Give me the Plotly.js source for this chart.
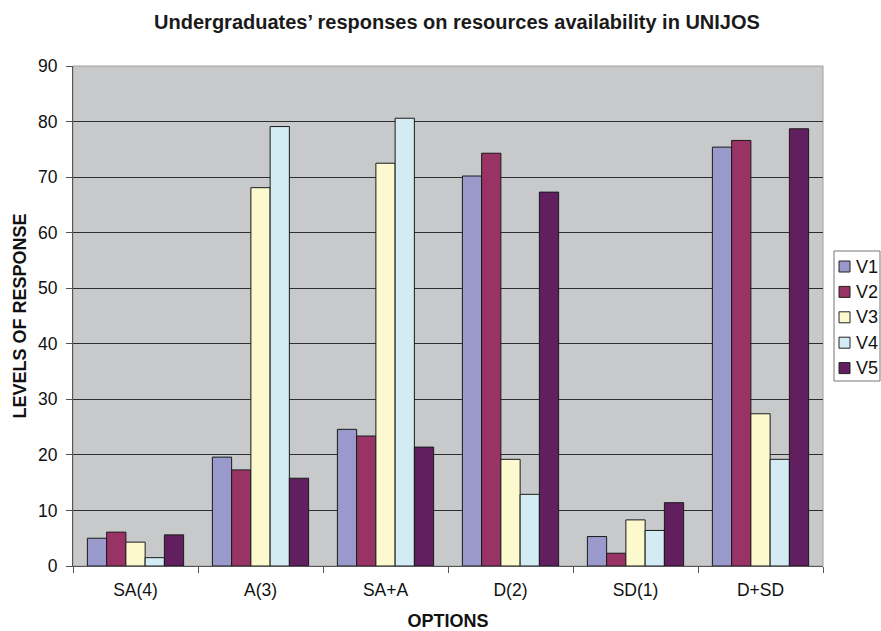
<!DOCTYPE html>
<html>
<head>
<meta charset="utf-8">
<script src="https://cdn.plot.ly/plotly-3.0.1.min.js"></script>
<style>html,body{margin:0;padding:0;background:#fff;}#chart{width:881px;height:631px;}</style>
</head>
<body>
<div id="chart"></div>
<script>
const categories = ["SA(4)", "A(3)", "SA+A", "D(2)", "SD(1)", "D+SD"];
const seriesNames = ["V1", "V2", "V3", "V4", "V5"];
const V1 = [5.0, 19.6, 24.6, 70.2, 5.3, 75.4];
const V2 = [6.1, 17.3, 23.4, 74.3, 2.3, 76.6];
const V3 = [4.3, 68.1, 72.5, 19.2, 8.3, 27.4];
const V4 = [1.5, 79.1, 80.6, 12.9, 6.4, 19.2];
const V5 = [5.6, 15.8, 21.4, 67.3, 11.4, 78.7];
const yTicks = [0, 10, 20, 30, 40, 50, 60, 70, 80, 90];

const seriesValues = [V1, V2, V3, V4, V5];
const colors = ["#9999CC", "#993366", "#FDF9CF", "#D3EBF2", "#611F5F"];

const W = 881, H = 631;
const M = {l: 73, r: 58, t: 66, b: 65};
const PW = W - M.l - M.r, PH = H - M.t - M.b;
const px2x = p => (p - M.l) / PW;
const px2y = p => (H - M.b - p) / PH;

const traces = seriesValues.map((vals, i) => ({
  type: "bar",
  name: seriesNames[i],
  x: categories,
  y: vals,
  marker: {color: colors[i], line: {color: "#1a1a1a", width: 1}},
  showlegend: false
}));

const font = "Liberation Sans, Arial, sans-serif";

// legend box (custom, drawn as shapes + text)
const shapes = [{
  type: "rect", xref: "paper", yref: "paper", x0: 0, x1: 1, y0: 0, y1: 1,
  line: {color: "#a0a0a0", width: 1}, fillcolor: "rgba(0,0,0,0)", layer: "below"
}, {
  type: "rect", xref: "paper", yref: "paper",
  x0: px2x(834), x1: px2x(880), y0: px2y(381), y1: px2y(251),
  line: {color: "#777", width: 1}, fillcolor: "#ffffff"
}];
const annotations = [];
seriesNames.forEach((name, i) => {
  const cy = 266.5 + 25.4 * i;
  shapes.push({
    type: "rect", xref: "paper", yref: "paper",
    x0: px2x(839), x1: px2x(850), y0: px2y(cy + 5.5), y1: px2y(cy - 5.5),
    line: {color: "#222", width: 1}, fillcolor: colors[i]
  });
  annotations.push({
    xref: "paper", yref: "paper", x: px2x(854), y: px2y(cy),
    xanchor: "left", yanchor: "middle", showarrow: false,
    text: name, font: {family: font, size: 18, color: "#111"}
  });
});

const layout = {
  width: W, height: H,
  paper_bgcolor: "#ffffff",
  plot_bgcolor: "#C8C9CB",
  margin: M,
  barmode: "group",
  bargap: 0.23,
  bargroupgap: 0,
  showlegend: false,
  font: {family: font, size: 17.5, color: "#111"},
  title: {
    text: "<b>Undergraduates’ responses on resources availability in UNIJOS</b>",
    font: {family: font, size: 20, color: "#1a1a1a"},
    x: 457/W, xanchor: "center", y: 1 - 22/H, yanchor: "middle"
  },
  xaxis: {
    type: "category",
    tickson: "boundaries",
    ticks: "outside", ticklen: 6, tickcolor: "#555",
    showline: true, linecolor: "#555", linewidth: 1,
    tickfont: {family: font, size: 17.5, color: "#111"},
    ticklabelstandoff: 8,
    title: {text: "<b>OPTIONS</b>", font: {family: font, size: 18, color: "#111"}, standoff: 16},
    automargin: false
  },
  yaxis: {
    range: [0, 90],
    tickvals: yTicks,
    ticktext: yTicks.map(String),
    ticks: "outside", ticklen: 6, tickcolor: "#555",
    showline: true, linecolor: "#555", linewidth: 1,
    showgrid: true, gridcolor: "#2e2e2e", gridwidth: 1,
    zeroline: false,
    tickfont: {family: font, size: 17.5, color: "#111"},
    ticklabelstandoff: 5,
    title: {text: "<b>LEVELS OF RESPONSE</b>", font: {family: font, size: 18, color: "#111"}, standoff: 6},
    automargin: false
  },
  shapes: shapes,
  annotations: annotations
};

Plotly.newPlot("chart", traces, layout, {displayModeBar: false, staticPlot: true});
</script>
</body>
</html>
